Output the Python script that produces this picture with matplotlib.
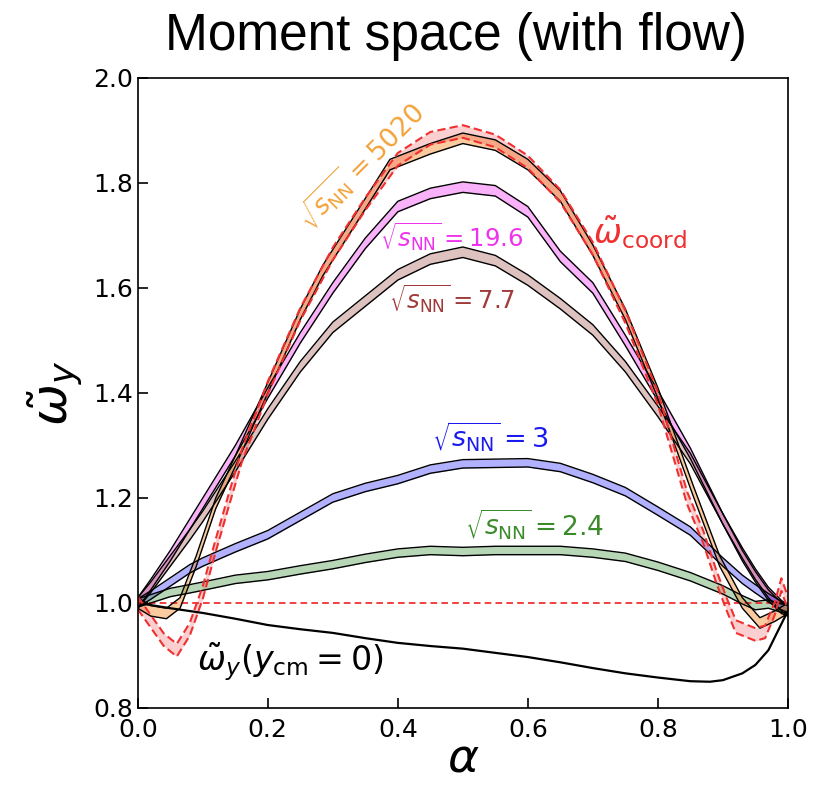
import numpy as np
import matplotlib
matplotlib.use("Agg")
import matplotlib.pyplot as plt

# ---------------- data ----------------
a_ref = [0, 0.05, 0.1, 0.15, 0.2, 0.25, 0.3, 0.35, 0.4, 0.45, 0.5, 0.55, 0.6, 0.65,
         0.7, 0.75, 0.8, 0.85, 0.88, 0.9, 0.93, 0.95, 0.97, 0.98, 0.99, 1.0]
w_ycm0 = [1.0, 0.99, 0.981, 0.97, 0.958, 0.95, 0.943, 0.933, 0.924, 0.918, 0.913, 0.905,
          0.897, 0.887, 0.876, 0.866, 0.858, 0.851, 0.85, 0.853, 0.866, 0.882, 0.91,
          0.935, 0.96, 0.985]

a_coord = [0, 0.02, 0.04, 0.06, 0.08, 0.1, 0.12, 0.14, 0.16, 0.183, 0.2, 0.25, 0.3, 0.35,
           0.4, 0.45, 0.5, 0.55, 0.6, 0.65, 0.7, 0.75, 0.8, 0.845, 0.87, 0.89, 0.905,
           0.92, 0.95, 0.965, 0.98, 0.99, 1.0]
w_coord = [1.0, 0.965, 0.93, 0.91, 0.95, 1.02, 1.11, 1.196, 1.28, 1.354, 1.41, 1.55, 1.665,
           1.76, 1.845, 1.885, 1.898, 1.88, 1.84, 1.775, 1.675, 1.545, 1.39, 1.2, 1.125,
           1.05, 1.0, 0.955, 0.94, 0.945, 0.99, 1.035, 1.0]

a_5020 = [0, 0.02, 0.044, 0.065, 0.09, 0.12, 0.15, 0.2, 0.25, 0.285, 0.337, 0.388, 0.45,
          0.5, 0.55, 0.6, 0.65, 0.7, 0.75, 0.8, 0.854, 0.895, 0.93, 0.957, 0.98, 1.0]
w_5020 = [1.0, 0.985, 0.98, 1.0, 1.08, 1.19, 1.27, 1.41, 1.55, 1.634, 1.735, 1.835, 1.865,
          1.885, 1.872, 1.835, 1.775, 1.672, 1.55, 1.4, 1.215, 1.08, 1.0, 0.962, 0.975, 0.99]

a_grid = [0, 0.02, 0.05, 0.08, 0.1, 0.15, 0.2, 0.25, 0.3, 0.35, 0.4, 0.45, 0.5, 0.55,
          0.6, 0.65, 0.7, 0.75, 0.8, 0.85, 0.9, 0.93, 0.95, 0.97, 0.99, 1.0]
w_196 = [1.0, 1.035, 1.09, 1.15, 1.19, 1.29, 1.4, 1.505, 1.6, 1.685, 1.755, 1.78, 1.792,
         1.785, 1.745, 1.66, 1.6, 1.5, 1.395, 1.285, 1.16, 1.095, 1.055, 1.02, 0.995, 0.985]
w_77 = [1.0, 1.03, 1.08, 1.13, 1.165, 1.26, 1.36, 1.45, 1.525, 1.575, 1.625, 1.655, 1.668,
        1.652, 1.615, 1.57, 1.52, 1.45, 1.365, 1.275, 1.16, 1.09, 1.05, 1.015, 0.99, 0.985]
w_3 = [1.0, 1.015, 1.04, 1.065, 1.078, 1.105, 1.13, 1.165, 1.2, 1.22, 1.235, 1.255, 1.265,
       1.266, 1.267, 1.258, 1.237, 1.212, 1.175, 1.137, 1.078, 1.045, 1.027, 1.01, 0.995, 0.99]
w_24 = [1.0, 1.008, 1.02, 1.027, 1.032, 1.045, 1.052, 1.063, 1.073, 1.085, 1.095, 1.1, 1.098,
        1.1, 1.1, 1.1, 1.095, 1.087, 1.07, 1.05, 1.025, 1.006, 0.995, 0.998, 0.99, 0.99]

# half widths of the uncertainty bands
hw_coord, hw_5020, hw_196, hw_77, hw_3, hw_24 = 0.012, 0.01, 0.01, 0.01, 0.008, 0.008

xticks = [0.0, 0.2, 0.4, 0.6, 0.8, 1.0]
yticks = [0.8, 1.0, 1.2, 1.4, 1.6, 1.8, 2.0]

# ---------------- plot ----------------
fig = plt.figure(figsize=(8.25, 7.87), dpi=100)
ax = fig.add_axes([0.167, 0.1004, 0.788, 0.8006])


def band(x, y, hw, fc, alpha=0.35):
    x = np.asarray(x); y = np.asarray(y)
    lo, hi = y - hw, y + hw
    ax.fill_between(x, lo, hi, color=fc, alpha=alpha, lw=0)
    ax.plot(x, lo, color='black', lw=1.0)
    ax.plot(x, hi, color='black', lw=1.0)


ax.plot(a_ref, w_ycm0, color='black', lw=1.6)
ax.axhline(1.0, color='#f02020', lw=1.2, ls=(0, (4, 2.5)))

band(a_grid, w_196, hw_196, '#ee22ee', 0.35)
band(a_grid, w_77, hw_77, '#a0524d', 0.35)
band(a_grid, w_3, hw_3, '#2222ff', 0.35)
band(a_grid, w_24, hw_24, '#2e8b2e', 0.35)
band(a_5020, w_5020, hw_5020, '#f28c28', 0.45)

xc = np.asarray(a_coord); yc = np.asarray(w_coord)
ax.fill_between(xc, yc - hw_coord, yc + hw_coord, color='#f04040', alpha=0.25, lw=0)
ax.plot(xc, yc - hw_coord, color='#f03030', lw=1.5, ls=(0, (4, 2)))
ax.plot(xc, yc + hw_coord, color='#f03030', lw=1.5, ls=(0, (4, 2)))

# labels
ax.text(0.342, 1.834, r'$\sqrt{s_{\rm NN}}=5020$', color='#f2a33a', fontsize=19,
        rotation=45, ha='center', va='center')
ax.text(0.483, 1.697, r'$\sqrt{s_{\rm NN}}=19.6$', color='#ee33ee', fontsize=17.5,
        ha='center', va='center')
ax.text(0.483, 1.579, r'$\sqrt{s_{\rm NN}}=7.7$', color='#a03a3a', fontsize=17.5,
        ha='center', va='center')
ax.text(0.542, 1.318, r'$\sqrt{s_{\rm NN}}=3$', color='#1a1aee', fontsize=19.5,
        ha='center', va='center')
ax.text(0.611, 1.150, r'$\sqrt{s_{\rm NN}}=2.4$', color='#3b8b2b', fontsize=19,
        ha='center', va='center')
ax.text(0.772, 1.707, r'$\tilde{\omega}_{\rm coord}$', color='#f03030', fontsize=24,
        ha='center', va='center')
ax.text(0.235, 0.888, r'$\tilde{\omega}_y(y_{\rm cm}=0)$', color='black', fontsize=24,
        ha='center', va='center')

ax.set_xlim(0, 1)
ax.set_ylim(0.8, 2.0)
ax.set_xticks(xticks)
ax.set_yticks(yticks)
ax.set_xticklabels([f'{v:.1f}' for v in xticks])
ax.set_yticklabels([f'{v:.1f}' for v in yticks])
ax.tick_params(direction='in', length=7, width=1.2, labelsize=18, top=False, right=False)
ax.tick_params(axis='x', pad=7)
for s in ax.spines.values():
    s.set_linewidth(1.2)

ax.set_xlabel(r'$\alpha$', fontsize=34, labelpad=-4)
ax.set_ylabel(r'$\tilde{\omega}_y$', fontsize=36, labelpad=6)
fig.suptitle('Moment space (with flow)', x=0.553, y=0.985, fontsize=37,
             family=['Liberation Sans Narrow', 'Liberation Sans', 'DejaVu Sans'])

fig.savefig('out.png', dpi=100)
